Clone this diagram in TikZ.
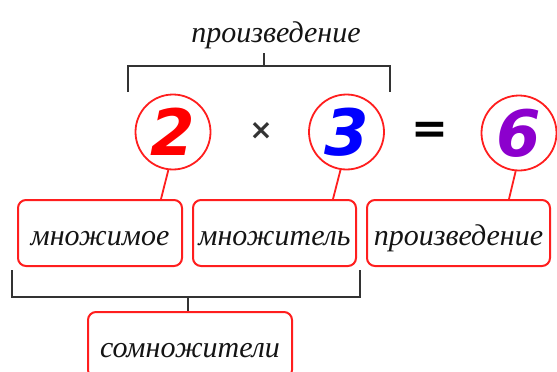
\documentclass[tikz,border=0pt]{standalone}
\usepackage{fontspec}
\setmainfont{Liberation Serif}
\newfontfamily\digitfont{DejaVu Sans Bold Oblique}
\newfontfamily\signfont{DejaVu Sans Bold}
\definecolor{bracketgray}{HTML}{333333}
\definecolor{inkblack}{HTML}{141414}
\definecolor{numpurple}{RGB}{140,0,205}
\definecolor{numblue}{RGB}{0,0,255}
\definecolor{numred}{RGB}{255,0,0}
\definecolor{boxred}{RGB}{255,30,30}
\begin{document}
\begin{tikzpicture}[x=1pt,y=-1pt,
  numcircle/.style={circle,draw=boxred,line width=1.8pt,minimum size=75pt,inner sep=0pt,
    font=\digitfont\fontsize{64}{64}\selectfont},
  termbox/.style={draw=boxred,line width=2pt,rounded corners=8pt,minimum height=66pt,
    inner sep=0pt,text height=24pt,text depth=0pt,
    font=\itshape\fontsize{30}{30}\selectfont,text=inkblack},
  leader/.style={draw=boxred,line width=1.8pt},
  brace/.style={draw=bracketgray,line width=2.4pt},
  toplabel/.style={font=\itshape\fontsize{30}{30}\selectfont,text=inkblack,inner sep=0pt},
]
\useasboundingbox (0,0) rectangle (557,372);
\clip (0,0) rectangle (557,372);

% top label and bracket
\node[toplabel,anchor=base] (ptop) at (276,42) {произведение};
\coordinate (tbl) at (128,92);
\coordinate (tbr) at (390,92);
\coordinate (tbm) at (264,66);
\draw[brace] (tbl) -- (128,66) -- (390,66) -- (tbr);
\draw[brace] (tbm) -- (264,53);

% numbers
\node[numcircle,text=numred] (c2) at (173,132) {2};
\node[numcircle,text=numblue] (c3) at (346.5,132) {3};
\node[numcircle,text=numpurple] (c6) at (519,133) {6};
\node[font=\signfont\fontsize{28}{28}\selectfont,text=bracketgray,inner sep=0pt] (times) at (261,131) {×};
\node[font=\signfont\fontsize{44}{44}\selectfont,text=black,inner sep=0pt] (eq) at (430,133) {=};

% term boxes
\node[termbox,minimum width=164pt] (b1) at (100,233) {множимое};
\node[termbox,minimum width=163pt] (b2) at (274.5,233) {множитель};
\node[termbox,minimum width=183pt] (b3) at (458.5,233) {произведение};
\node[termbox,minimum width=204pt] (b4) at (190,345) {сомножители};

% leaders
\draw[leader] (c2.263) -- ([xshift=144pt]b1.north west);
\draw[leader] (c3.261) -- ([xshift=141pt]b2.north west);
\draw[leader] (c6.265) -- ([xshift=143pt]b3.north west);

% bottom bracket
\coordinate (bbl) at (12,270);
\coordinate (bbr) at (360,270);
\coordinate (bbm) at (188,297);
\draw[brace] (bbl) -- (12,297) -- (360,297) -- (bbr);
\draw[brace] (bbm) -- (bbm |- b4.north);
\end{tikzpicture}
\end{document}
